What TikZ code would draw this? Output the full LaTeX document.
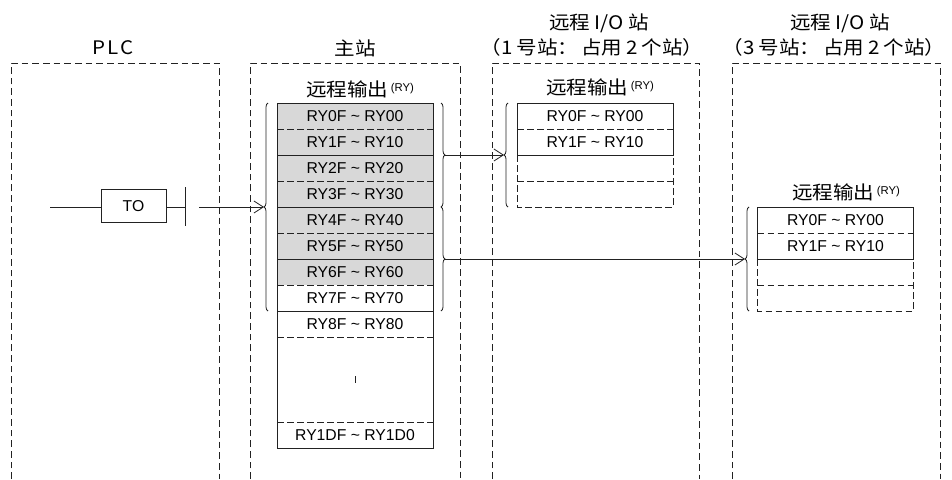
\documentclass[tikz,border=0pt]{standalone}
\usepackage{fontspec}
\setmainfont{Liberation Sans}
\newfontfamily\cjk[FakeStretch=1.1]{Noto Sans CJK SC}
\usetikzlibrary{arrows.meta,decorations.pathreplacing}
\newcommand\rytil{\textasciitilde}
\newcommand\rysub{\raisebox{3.5pt}{\rmfamily\fontsize{8.5}{8.5}\selectfont (RY)}}
\definecolor{cellgray}{HTML}{D8D8D8}
\definecolor{ink}{HTML}{222222}
\begin{document}
\begin{tikzpicture}[x=0.75pt,y=-0.75pt,
  frame/.style={draw=ink, line width=0.7pt, dash pattern=on 5pt off 3pt},
  cell/.style={minimum width=117pt, minimum height=19.5pt, inner sep=0pt, outer sep=0pt, font=\fontsize{11.8}{11.8}\selectfont},
  sep/.style={draw=ink, line width=0.65pt},
  dsep/.style={draw=ink, line width=0.65pt, dash pattern=on 5pt off 2.5pt},
  brc/.style={draw=ink, decorate, decoration={brace, amplitude=3pt}, line width=0.6pt},
  arr/.style={draw=ink, -{Straight Barb[length=7pt,width=9pt]}, line width=0.6pt},
  title/.style={font=\cjk\fontsize{14}{14}\selectfont, inner sep=0pt},
  sub/.style={font=\cjk\fontsize{14}{14}\selectfont, inner sep=0pt}]
\useasboundingbox (0,0) rectangle (952,479);

% dashed frames
\draw[frame] (11,479) -- (11,63) -- (219,63) -- (219,479);
\draw[frame] (250,479) -- (250,63) -- (460,63) -- (460,479);
\draw[frame] (492,479) -- (492,63) -- (699,63) -- (699,479);
\draw[frame] (732,479) -- (732,63) -- (940,63) -- (940,479);

% titles
\node[title] (tplc) at (113,48) {P\kern1.5pt L\kern1.5pt C};
\node[title] (tm) at (355,48) {主站};
\node[title] (tr1a) at (599,23) {远程 I/O 站};
\node[title] (tr1b) at (592,47) {（1\kern3pt 号站：\kern2pt 占用\kern3pt 2\kern3pt 个站）};
\node[title] (tr3a) at (840,23) {远程 I/O 站};
\node[title] (tr3b) at (834,47) {（3\kern3pt 号站：\kern2pt 占用\kern3pt 2\kern3pt 个站）};

% PLC rung
\coordinate (rs) at (50,207);
\node[draw=ink, line width=0.6pt, minimum width=48.75pt, minimum height=24.75pt, inner sep=0pt, font=\fontsize{11.8}{11.8}\selectfont] (to) at (133.5,206) {TO};
\coordinate (bar) at (185,207);
\coordinate (bt) at (185,187);
\coordinate (bb) at (185,226);
\draw[sep] (rs) -- (to.west |- rs);
\draw[sep] (to.east |- rs) -- (bar);
\draw[sep] (bt) -- (bb);
\coordinate (plcout) at (199,207);

% master table
\node[cell, fill=cellgray] (m0) at (355,116) {RY0F \rytil{} RY00};
\node[cell, fill=cellgray] (m1) at (355,142) {RY1F \rytil{} RY10};
\node[cell, fill=cellgray] (m2) at (355,168) {RY2F \rytil{} RY20};
\node[cell, fill=cellgray] (m3) at (355,194) {RY3F \rytil{} RY30};
\node[cell, fill=cellgray] (m4) at (355,220) {RY4F \rytil{} RY40};
\node[cell, fill=cellgray] (m5) at (355,246) {RY5F \rytil{} RY50};
\node[cell, fill=cellgray] (m6) at (355,272) {RY6F \rytil{} RY60};
\node[cell] (m7) at (355,298) {RY7F \rytil{} RY70};
\node[cell] (m8) at (355,324) {RY8F \rytil{} RY80};
\node[cell, minimum height=63.75pt] (mb) at (355,379.5) {};
\node[cell] (m9) at (355,435) {RY1DF \rytil{} RY1D0};
\draw[sep] (m0.north west) rectangle (m9.south east);
\draw[dsep] (m0.south west) -- (m0.south east);
\draw[sep] (m1.south west) -- (m1.south east);
\draw[dsep] (m2.south west) -- (m2.south east);
\draw[sep] (m3.south west) -- (m3.south east);
\draw[dsep] (m4.south west) -- (m4.south east);
\draw[sep] (m5.south west) -- (m5.south east);
\draw[dsep] (m6.south west) -- (m6.south east);
\draw[sep] (m7.south west) -- (m7.south east);
\draw[dsep] (m8.south west) -- (m8.south east);
\draw[dsep] (mb.south west) -- (mb.south east);
\draw[sep] ([yshift=-2.5pt]mb.center) -- ([yshift=2.5pt]mb.center);
\node[sub] (mlab) at (360,89) {远程输出\kern2pt\rysub};

% master braces
\draw[brc] (268,311) -- (268,103);
\coordinate (mL) at (264,207);
\draw[brc] (441,103) -- (441,207);
\coordinate (mR1) at (445,155);
\draw[brc] (441,207) -- (441,311);
\coordinate (mR2) at (445,259);

% remote station 1
\node[cell] (a0) at (595,116) {RY0F \rytil{} RY00};
\node[cell] (a1) at (595,142) {RY1F \rytil{} RY10};
\node[cell] (a2) at (595,168) {};
\node[cell] (a3) at (595,194) {};
\draw[sep] (a1.south west) -- (a0.north west) -- (a0.north east) -- (a1.south east) -- cycle;
\draw[dsep] (a0.south west) -- (a0.south east);
\draw[dsep] (a2.north west) -- (a3.south west) -- (a3.south east) -- (a2.north east);
\draw[dsep] (a2.south west) -- (a2.south east);
\node[sub] (alab) at (600,87) {远程输出\kern2pt\rysub};
\draw[brc] (508,207) -- (508,103);
\coordinate (aL) at (504,155);

% remote station 3
\node[cell] (b0) at (835.5,220) {RY0F \rytil{} RY00};
\node[cell] (b1) at (835.5,246) {RY1F \rytil{} RY10};
\node[cell] (b2) at (835.5,272) {};
\node[cell] (b3) at (835.5,298) {};
\draw[sep] (b1.south west) -- (b0.north west) -- (b0.north east) -- (b1.south east) -- cycle;
\draw[dsep] (b0.south west) -- (b0.south east);
\draw[dsep] (b2.north west) -- (b3.south west) -- (b3.south east) -- (b2.north east);
\draw[dsep] (b2.south west) -- (b2.south east);
\node[sub] (blab) at (846,192) {远程输出\kern2pt\rysub};
\draw[brc] (749,311) -- (749,207);
\coordinate (bL) at (745,259);

% arrows
\draw[arr] (plcout) -- (mL);
\draw[arr] (mR1) -- (aL);
\draw[arr] (mR2) -- (bL);
\end{tikzpicture}
\end{document}
